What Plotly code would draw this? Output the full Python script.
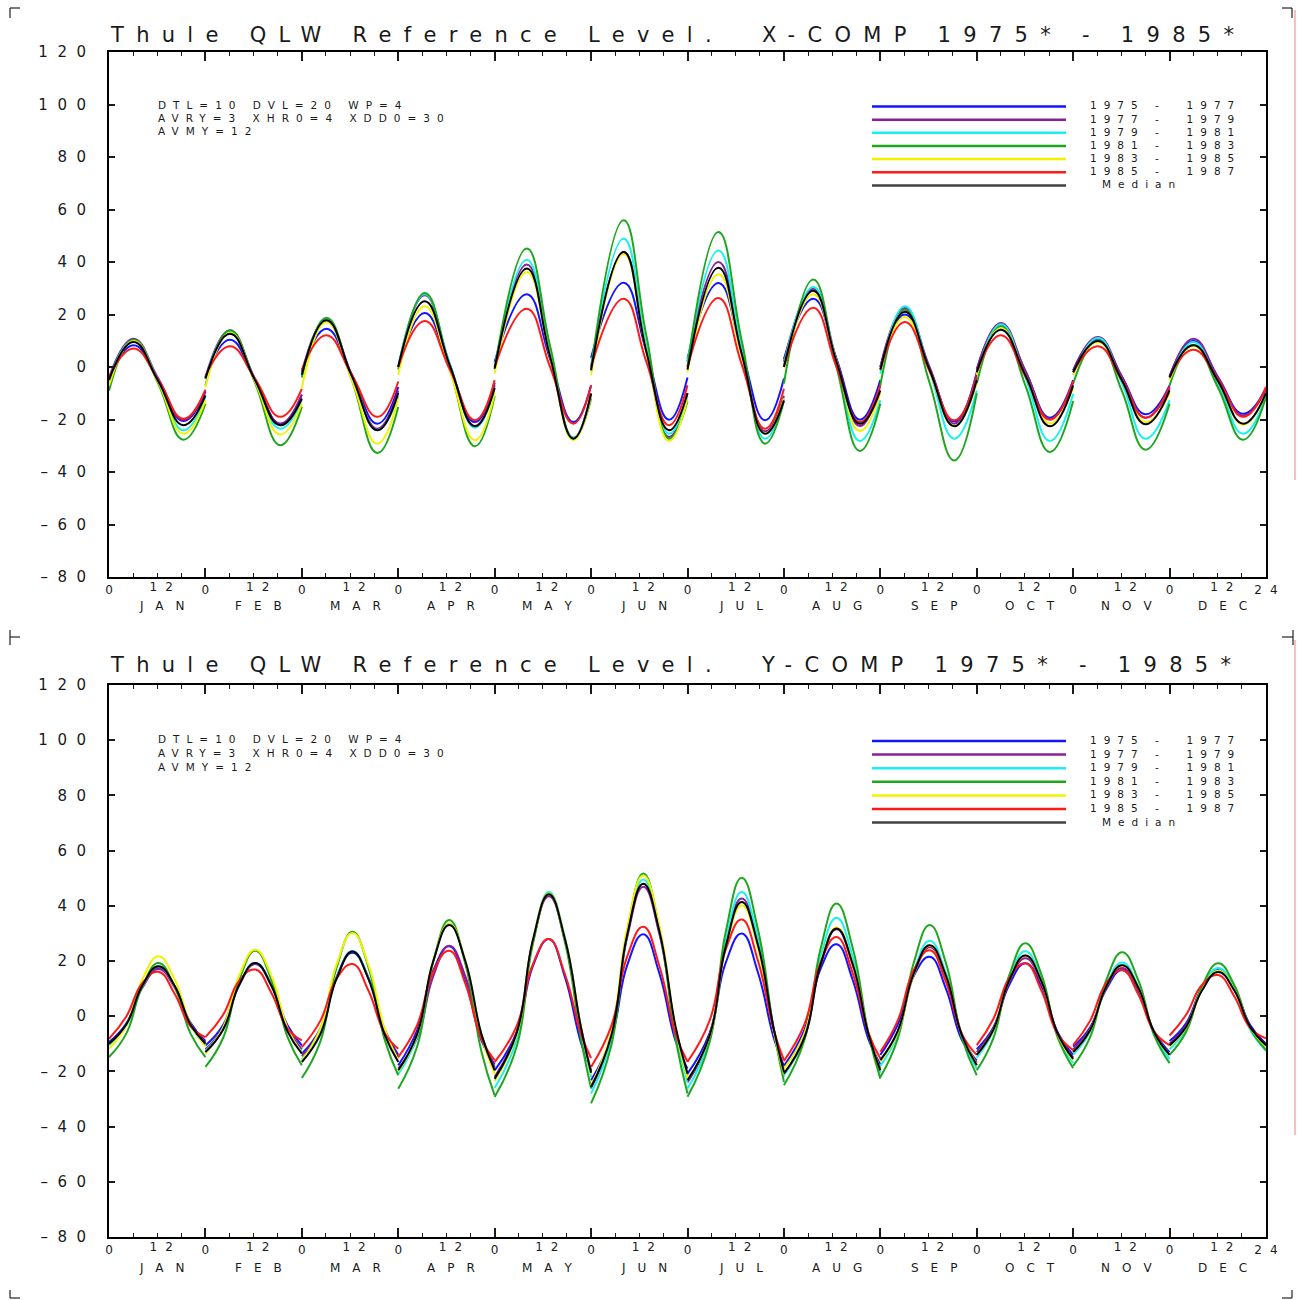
import plotly.graph_objects as go

FONT = "DejaVu Sans"
INK = "#1a1a1a"
W = H = 1300

MONTHS = ["JAN", "FEB", "MAR", "APR", "MAY", "JUN", "JUL", "AUG", "SEP", "OCT", "NOV", "DEC"]
SERIES_LABELS = ["1975 -  1977", "1977 -  1979", "1979 -  1981", "1981 -  1983",
                 "1983 -  1985", "1985 -  1987", "Median"]
SERIES_COLORS = ["#1414ff", "#8a1f9a", "#19f0f0", "#1fa61f", "#f2f200", "#ff1a1a", "#000000"]
LEGEND_COLORS = ["#1414ff", "#8a1f9a", "#19f0f0", "#1fa61f", "#f2f200", "#ff1a1a", "#404040"]
Y_TICK_VALUES = [120, 100, 80, 60, 40, 20, 0, -20, -40, -60, -80]
Y_TICK_LABELS = ["120", "100", "80", "60", "40", "20", "0", "–20", "–40", "–60", "–80"]
PARAM_LINES = ["DTL=10 DVL=20 WP=4", "AVRY=3 XHR0=4 XDD0=30", "AVMY=12"]
TITLES = ["Thule QLW Reference Level.  X-COMP 1975* - 1985*",
          "Thule QLW Reference Level.  Y-COMP 1975* - 1985*"]

# ---------------- X-COMP (top panel) ----------------
# sample hours per month: start, peak, mid crossing, trough, end
HOURS_X = [
    [0, 6.1, 12.3, 18.5, 24], [0, 6.1, 12.35, 18.6, 24], [0, 6.1, 12.45, 18.8, 24],
    [0, 6.6, 12.85, 19.1, 24], [0, 8.0, 13.8, 19.6, 24], [0, 8.1, 13.75, 19.4, 24],
    [0, 7.7, 13.5, 19.3, 24], [0, 7.3, 13.1, 18.9, 24], [0, 6.1, 12.25, 18.4, 24],
    [0, 6.0, 12.1, 18.2, 24], [0, 6.2, 12.1, 18.0, 24], [0, 5.9, 12.1, 18.3, 24],
]
X_1975_77 = [
    [-4.5, 8.3, -5, -20.6, -9.5], [-4, 10.4, -5, -21.6, -10.5], [-2, 14.6, -3, -21.6, -7.6],
    [0, 20.6, -0.5, -21, -6], [2, 27.7, 3, -21, -7], [3.5, 32.1, 6, -20.1, -4],
    [3.2, 32, 6, -20.3, -4.4], [3, 26, 3, -20.1, -5], [0, 20, -0.5, -20.8, -2.5],
    [-1, 16.3, -1.5, -19.3, -5], [-1.3, 10.8, -3.6, -18, -7], [-3.5, 9.9, -4, -17.8, -8],
]
X_1977_79 = [
    [-4, 10.8, -4.5, -20.1, -9], [-4, 14, -4.5, -21.6, -10.5], [-2, 18, -3, -23.5, -9],
    [0, 27.3, 1, -22.5, -7], [0, 39, 4, -27, -10], [0, 43.8, 6, -26.7, -10],
    [2, 40, 6, -24.5, -11], [2, 29.8, 3, -22.5, -7], [0, 22.5, 0, -21.6, -2],
    [-1, 16.8, -1.5, -19.8, -6], [-1.3, 11.4, -3.5, -19.3, -8], [-3.8, 10.8, -4, -18.5, -8.5],
]
X_1979_81 = [
    [-5, 10.2, -5.5, -24.1, -11.5], [-4.5, 13.3, -5, -23.5, -12.5], [-3, 18, -3.5, -24, -11],
    [0, 27.7, 1, -23.1, -8], [0, 40.9, 5, -27, -11], [0, 48.9, 8, -25.4, -11],
    [2, 44.4, 7, -27.3, -12], [1, 30.5, 2, -28.2, -12.7], [-2.5, 23.1, -1.5, -27.3, -9],
    [-3, 16.3, -4, -28.2, -10.2], [-3, 11, -6, -27.3, -12.7], [-5, 9.5, -6.5, -25.4, -11],
]
X_1981_83 = [
    [-9, 10.4, -6.5, -27.7, -14], [-7, 14, -6, -29.8, -15.2], [-4, 18.8, -5, -32.8, -15.2],
    [-1, 28.2, -0.5, -30.2, -11], [-1, 45.1, 8, -27.3, -12], [-1, 55.9, 12, -27.3, -13],
    [0, 51.4, 10, -29.2, -13], [-6.3, 33.3, 0, -32, -14], [-7, 21.8, -6, -35.6, -10],
    [-6.3, 15.5, -7, -32.4, -13], [-6.3, 10.2, -9, -31.5, -14], [-7, 8.5, -8, -27.7, -11.4],
]
X_1983_85 = [
    [-7, 9.9, -6, -25.4, -12.7], [-7.6, 13, -5.5, -25.7, -14], [-8, 17.1, -5, -29.2, -12],
    [-3, 23.1, -1.5, -27.9, -10], [-2.5, 36.2, 4, -27.9, -11], [-3, 43, 6, -28.2, -12],
    [-2, 35.3, 4, -25.4, -12], [0, 27.7, 2, -24.4, -10], [-1, 19, -1.5, -22.5, -6],
    [-3, 14.8, -3, -21.5, -8], [-3, 9.5, -5, -21, -10], [-5, 8, -5.5, -22, -10],
]
X_1985_87 = [
    [-4, 7, -5, -19.7, -8.6], [-3.5, 7.9, -4.5, -19, -8.3], [-1, 12.1, -3, -19, -5.5],
    [0, 17.5, -1, -20.3, -5], [0, 22.2, 0, -21.6, -7], [0, 26, 2, -22.2, -7],
    [0, 26.3, 1, -23.5, -8.3], [0, 22.6, 0, -21, -7], [-1, 17.1, -1.5, -20.3, -4],
    [-2, 12.1, -3.5, -20.1, -5.5], [-2, 7.9, -5, -19.3, -7.5], [-3.8, 6.6, -5, -19, -7.6],
]
X_MEDIAN = [
    [-5, 9.5, -5.5, -22.2, -10.8], [-4.4, 12.7, -5, -22.2, -12], [-3, 17.8, -3.5, -24.1, -9.9],
    [0, 25, 0.5, -22.6, -8], [-0.6, 37.5, 4, -27.3, -10.2], [-1.3, 43.8, 6, -24.1, -10],
    [-1, 37.8, 5, -25.4, -12.7], [0, 29, 2, -21.6, -8.9], [-1, 21, -1, -22.6, -5],
    [-2, 14.2, -3, -22.6, -7], [-2, 9.9, -5, -21.8, -8.9], [-4, 8.3, -5.5, -21.6, -9.9],
]

# ---------------- Y-COMP (bottom panel) ----------------
# sample hours per month: start, peak-8h, peak-4h, peak, peak+4h, peak+8h, end
HOURS_Y = [
    [0, 4.3, 8.3, 12.3, 16.3, 20.3, 24], [0, 4.4, 8.4, 12.4, 16.4, 20.4, 24],
    [0, 4.6, 8.6, 12.6, 16.6, 20.6, 24], [0, 4.7, 8.7, 12.7, 16.7, 20.7, 24],
    [0, 5.5, 9.5, 13.5, 17.5, 21.5, 24], [0, 5.0, 9.0, 13.0, 17.0, 21.0, 24],
    [0, 5.5, 9.5, 13.5, 17.5, 21.5, 24], [0, 5.1, 9.1, 13.1, 17.1, 21.1, 24],
    [0, 4.3, 8.3, 12.3, 16.3, 20.3, 24], [0, 4.1, 8.1, 12.1, 16.1, 20.1, 24],
    [0, 4.2, 8.2, 12.2, 16.2, 20.2, 24], [0, 4.1, 8.1, 12.1, 16.1, 20.1, 24],
]
Y_1975_77 = [
    [-9.4, -2.7, 10.8, 17.5, 10.9, -2.4, -9], [-10.6, -3.2, 11.6, 19, 11.6, -3.2, -10.6],
    [-13.6, -4.5, 13.9, 23, 13.8, -4.8, -14], [-17.8, -5.0, 16.5, 25.3, 12.6, -8.8, -17.5],
    [-19.6, -5.7, 18.1, 28, 14.1, -9.7, -19.6], [-23.2, -8, 18.5, 29.7, 15.5, -8.8, -19],
    [-20.8, -6.1, 19.3, 30, 16, -8, -18], [-18, -5, 17.1, 26.1, 13.2, -8.6, -17.5],
    [-14, -3.1, 14.6, 21.5, 10.1, -8.6, -16], [-12, -4.2, 11.4, 19.2, 10.9, -5.7, -14],
    [-11, -4.1, 9.7, 16.7, 9.3, -5.6, -13], [-9, -2.6, 10.3, 16.7, 10.1, -3.3, -10],
]
Y_1977_79 = [
    [-10, -3.2, 10.3, 17.1, 10.5, -2.9, -9.5], [-12, -4.3, 11.2, 18.9, 11.2, -4.3, -12],
    [-14.5, -5.0, 14, 23.4, 13.8, -5.4, -15], [-19, -7.9, 14.4, 25.5, 14.5, -7.5, -18.5],
    [-22, -5.6, 27.1, 43.5, 27.6, -4.1, -20], [-26, -7.8, 28.7, 46.9, 29.8, -4.4, -21.5],
    [-24, -7.4, 26, 42.6, 26.8, -4.7, -20.5], [-21, -7.9, 18.4, 31.5, 18.8, -6.4, -19],
    [-16, -5.8, 14.8, 25, 14.5, -6.5, -17], [-13, -4.5, 12.5, 21, 12, -6, -15],
    [-12, -4.6, 10.2, 17.5, 9.6, -6.1, -14], [-10, -3.4, 9.9, 16.5, 9.6, -4.1, -11],
]
Y_1979_81 = [
    [-10.5, -3.4, 10.9, 18, 10.9, -3.4, -10.5], [-12.5, -4.6, 11.3, 19.3, 11.3, -4.9, -13],
    [-15.5, -5.8, 13.7, 23.5, 13.7, -6.1, -16], [-21, -7.4, 19.9, 33.5, 20.1, -6.6, -20],
    [-26, -8.3, 27.3, 45, 28.3, -5.3, -22], [-28, -8.6, 30.1, 49.5, 31.1, -5.6, -24],
    [-26.2, -8.4, 27.2, 45, 28.3, -5.3, -22], [-21.5, -7.2, 21.4, 35.7, 21.6, -6.5, -20.5],
    [-18, -6.7, 16, 27.3, 15.7, -7.4, -19], [-15, -5.4, 13.9, 23.5, 13.3, -6.9, -17],
    [-14, -5.6, 11.1, 19.5, 10.8, -6.8, -15.5], [-12, -4.6, 10.2, 17.5, 10, -5, -12.5],
]
Y_1981_83 = [
    [-14.8, -6.3, 10.8, 19.3, 10.8, -6.3, -14.8], [-18.4, -7.9, 13.1, 23.7, 13.3, -7.4, -17.8],
    [-22.4, -9.2, 17.3, 30.6, 17.6, -8.4, -21.4], [-26.3, -11, 19.6, 34.9, 19, -12.8, -28.7],
    [-29.3, -10.9, 26.1, 44.5, 26.8, -8.5, -26.2], [-31.6, -10.8, 30.8, 51.7, 31.8, -8.1, -28],
    [-29.2, -9.4, 30.4, 50.2, 31.7, -5.3, -23.8], [-25, -8.6, 24.3, 40.8, 24.9, -6.8, -22.6],
    [-22, -8.3, 19.3, 33, 19.4, -7.8, -21.4], [-19.6, -8.1, 14.9, 26.4, 15.1, -7.5, -18.8],
    [-18, -7.7, 12.9, 23.2, 13.1, -7, -17], [-14, -5.7, 10.9, 19.2, 11.3, -4.4, -12.3],
]
Y_1983_85 = [
    [-11.8, -3.4, 13.3, 21.7, 13.5, -2.8, -11], [-13.5, -4.1, 14.7, 24.1, 14.7, -4.1, -13.5],
    [-16, -4.5, 18.5, 30.1, 18.5, -4.5, -16], [-20, -6.6, 20.1, 33.5, 19.9, -7.4, -21],
    [-23.5, -6.5, 27.5, 44.5, 28.1, -4.6, -21], [-25, -6, 32, 51, 32.6, -4.1, -22.5],
    [-23, -7.2, 24.4, 40.2, 24.9, -5.7, -21], [-19, -6.2, 19.3, 32.1, 19.2, -6.6, -19.5],
    [-16.5, -6, 15, 25.5, 14.7, -6.8, -17.5], [-14, -5, 13, 22, 12.5, -6.5, -16],
    [-13, -5.1, 10.6, 18.5, 10.4, -5.9, -14], [-11, -4.1, 9.6, 16.5, 9.6, -4.1, -11],
]
Y_1985_87 = [
    [-8.2, -0.1, 12, 16.1, 8.2, -3.7, -7.6], [-7.6, 0.5, 12.8, 16.9, 8.5, -4.4, -8.8],
    [-11.2, -1.7, 13.4, 18.9, 9.2, -6.1, -11.8], [-14.8, -3.2, 16.1, 23.7, 11.8, -8.1, -16],
    [-16.6, -3.5, 18.8, 28, 15.2, -6.4, -15.2], [-18.4, -3.7, 21.7, 32.4, 18.2, -6.3, -16.5],
    [-16.5, -1.6, 24.1, 35, 20.3, -5.2, -15.9], [-16.2, -3, 19.4, 28.7, 15.7, -6.3, -15.3],
    [-12.9, -1.7, 16.7, 23.9, 12.5, -6.5, -14], [-10.5, -1.1, 13.8, 19.2, 9.3, -6.4, -12.3],
    [-10.5, -1.7, 11.9, 16.7, 7.9, -5.7, -10.5], [-7, 0.5, 11.4, 14.9, 7.2, -4.3, -8],
]
Y_MEDIAN = [
    [-10, -3, 11.1, 18.1, 11.1, -3, -10], [-13, -4.9, 11.3, 19.3, 11.1, -5.4, -13.6],
    [-16.6, -6.6, 13.4, 23.4, 13.4, -6.6, -16.6], [-19.6, -6.5, 19.9, 33, 19.9, -6.5, -19.6],
    [-22.7, -6, 27.5, 44.2, 28, -4.3, -20.5], [-25.6, -7.2, 29.6, 48, 30.8, -3.6, -20.8],
    [-23.2, -7.1, 25.2, 41.4, 26, -4.8, -20.2], [-20.8, -7.7, 18.7, 31.8, 19, -6.8, -19.6],
    [-15.9, -5.5, 15.3, 25.7, 14.8, -6.9, -17.8], [-14, -5, 13, 22, 12.6, -6.1, -15.5],
    [-13, -5.1, 10.6, 18.5, 10.4, -5.9, -14], [-10.5, -3.9, 9.4, 16, 9.4, -3.9, -10.5],
]

X_SERIES = [X_1975_77, X_1977_79, X_1979_81, X_1981_83, X_1983_85, X_1985_87, X_MEDIAN]
Y_SERIES = [Y_1975_77, Y_1977_79, Y_1979_81, Y_1981_83, Y_1983_85, Y_1985_87, Y_MEDIAN]


def px(x):
    return x / W


def py(y):
    return 1 - y / H


def spaced(text, ls):
    """letter-spaced text (no trailing spacing after the last glyph)"""
    if len(text) < 2:
        return text
    return '<span style="letter-spacing:%gpx">%s</span>%s' % (ls, text[:-1], text[-1])


PANELS = [
    dict(top=52, bottom=577, title=35, mon=606, par0=104.5, pdy=13.3, leg0=106.5, ldy=13.15),
    dict(top=685, bottom=1237, title=665, mon=1268, par0=738.5, pdy=14, leg0=741, ldy=13.6),
]
PLOT_L, PLOT_R = 109, 1266

fig = go.Figure()
annotations = []
shapes = []
layout_axes = {}

for p, (geo, hours, series, title) in enumerate(zip(PANELS, [HOURS_X, HOURS_Y],
                                                   [X_SERIES, Y_SERIES], TITLES)):
    xa = "x" if p == 0 else "x2"
    ya = "y" if p == 0 else "y2"
    xo = "x3" if p == 0 else "x4"
    for vals, color in zip(series, SERIES_COLORS):
        xs, ys = [], []
        for m in range(12):
            for h, v in zip(hours[m], vals[m]):
                xs.append(24 * m + h)
                ys.append(v)
            xs.append(None)
            ys.append(None)
        fig.add_trace(go.Scatter(x=xs, y=ys, mode="lines", xaxis=xa, yaxis=ya,
                                 line=dict(color=color, width=2, shape="spline", smoothing=1.3),
                                 connectgaps=False, hoverinfo="skip", showlegend=False))
    # invisible trace for the overlay axis carrying the "12" labels
    fig.add_trace(go.Scatter(x=[0, 288], y=[-80, -80], mode="lines", xaxis=xo, yaxis=ya,
                             line=dict(width=0), hoverinfo="skip", showlegend=False))

    dom_y = [py(geo["bottom"]), py(geo["top"])]
    dom_x = [px(PLOT_L), px(PLOT_R)]
    month_starts = [24 * m for m in range(13)]
    tick_font = dict(family=FONT, size=12, color=INK)
    base_x = dict(
        domain=dom_x, anchor=ya, range=[0, 288], tickmode="array",
        tickvals=month_starts, ticktext=["0"] * 12 + [spaced("24", 8)],
        ticks="inside", ticklen=9, tickwidth=1.5, tickcolor=INK,
        minor=dict(tickmode="linear", tick0=0, dtick=6, ticks="inside", ticklen=4,
                   tickwidth=1.2, tickcolor=INK),
        showline=True, linecolor="#000", linewidth=2, mirror="ticks",
        showgrid=False, zeroline=False, fixedrange=True,
        tickfont=tick_font, ticklabelstandoff=1,
    )
    over_x = dict(
        overlaying=xa, anchor=ya, range=[0, 288], tickmode="array",
        tickvals=[24 * m + 12 for m in range(12)], ticktext=[spaced("12", 8)] * 12,
        ticks="", showline=False, showgrid=False, zeroline=False, side="bottom",
        fixedrange=True, tickfont=tick_font, ticklabelstandoff=1, ticklabelshift=4,
    )
    base_y = dict(
        domain=dom_y, anchor=xa, range=[-80, 120], tickmode="array",
        tickvals=Y_TICK_VALUES, ticktext=[spaced(t, 9.5) for t in Y_TICK_LABELS],
        ticks="inside", ticklen=6, tickwidth=1.5, tickcolor=INK,
        showline=True, linecolor="#000", linewidth=2, mirror="ticks",
        showgrid=False, zeroline=False, fixedrange=True,
        tickfont=dict(family=FONT, size=15, color=INK), ticklabelstandoff=18,
    )
    suffix = "" if p == 0 else "2"
    layout_axes["xaxis" + suffix] = base_x
    layout_axes["yaxis" + suffix] = base_y
    layout_axes["xaxis" + ("3" if p == 0 else "4")] = over_x

    annotations.append(dict(text=spaced(title, 12.3), x=px(PLOT_L - 1), y=py(geo["title"]),
                            xref="paper", yref="paper", xanchor="left", yanchor="middle",
                            showarrow=False, font=dict(family=FONT, size=21, color=INK)))
    for m, name in enumerate(MONTHS):
        annotations.append(dict(text=spaced(name, 12), x=24 * m + 12, y=py(geo["mon"]),
                                xref=xa, yref="paper", xanchor="center", yanchor="middle",
                                xshift=5, showarrow=False,
                                font=dict(family=FONT, size=12, color=INK)))
    for i, line in enumerate(PARAM_LINES):
        annotations.append(dict(text=spaced(line, 7), x=px(156), y=py(geo["par0"] + i * geo["pdy"]),
                                xref="paper", yref="paper", xanchor="left", yanchor="middle",
                                showarrow=False, font=dict(family=FONT, size=10.5, color=INK)))
    for i, (lab, col) in enumerate(zip(SERIES_LABELS, LEGEND_COLORS)):
        yy = geo["leg0"] + i * geo["ldy"]
        shapes.append(dict(type="line", xref="paper", yref="paper", x0=px(872), x1=px(1066),
                           y0=py(yy), y1=py(yy), line=dict(color=col, width=2.5)))
        lx = 1088 if lab != "Median" else 1100
        annotations.append(dict(text=spaced(lab, 7), x=px(lx), y=py(yy - 1),
                                xref="paper", yref="paper", xanchor="left", yanchor="middle",
                                showarrow=False, font=dict(family=FONT, size=10.5, color=INK)))

# crop marks around the page
MARKS = [((10, 8), (20, 8)), ((10, 8), (10, 18)),
         ((1282, 8), (1292, 8)), ((1292, 8), (1292, 18)),
         ((10, 630), (10, 645)), ((10, 637), (20, 637)),
         ((1282, 637), (1293, 637)), ((1293, 630), (1293, 645)),
         ((10, 1290), (10, 1298)), ((10, 1298), (20, 1298)),
         ((1292, 1290), (1292, 1298)), ((1282, 1298), (1292, 1298))]
for (a, b) in MARKS:
    shapes.append(dict(type="line", xref="paper", yref="paper", x0=px(a[0]), y0=py(a[1]),
                       x1=px(b[0]), y1=py(b[1]), line=dict(color="#222", width=1.2)))
for (y0, y1) in [(10, 480), (640, 1135)]:
    shapes.append(dict(type="line", xref="paper", yref="paper", x0=px(1295), x1=px(1295),
                       y0=py(y0), y1=py(y1), line=dict(color="#f08080", width=1)))

fig.update_layout(
    width=W, height=H, margin=dict(l=0, r=0, t=0, b=0), template="none",
    paper_bgcolor="white", plot_bgcolor="white", showlegend=False,
    font=dict(family=FONT, color=INK), annotations=annotations, shapes=shapes,
    **layout_axes,
)

fig.write_html("out.html")
